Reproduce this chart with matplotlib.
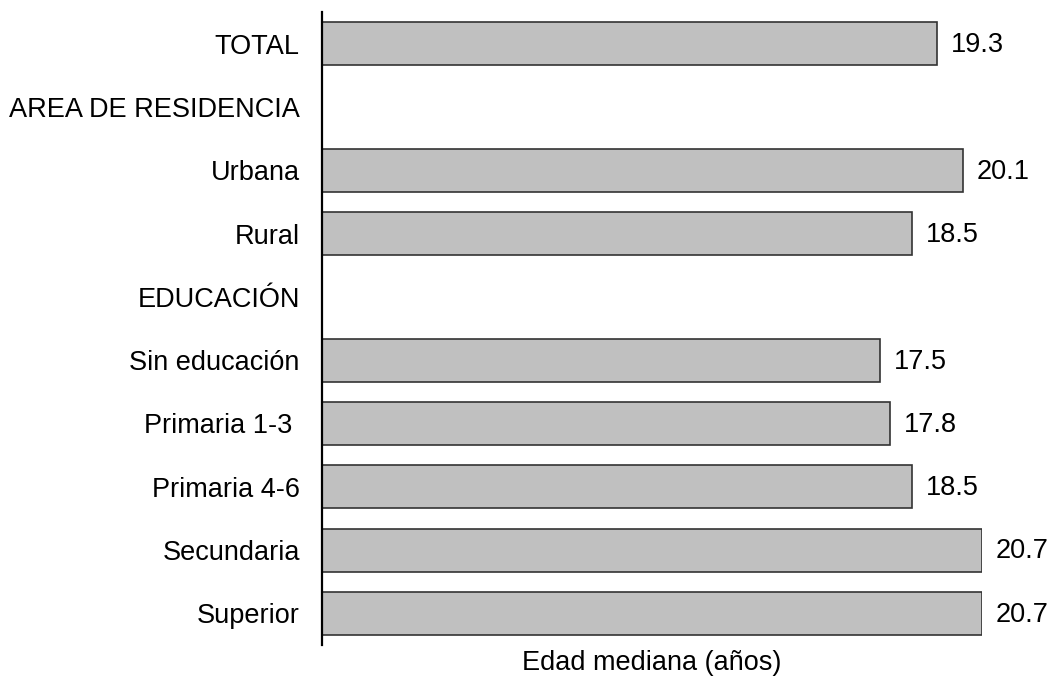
import matplotlib
matplotlib.use("Agg")
from matplotlib import pyplot as plt

# categorías (None = fila de encabezado sin barra)
categorias = [
    "TOTAL",
    "AREA DE RESIDENCIA",
    "Urbana",
    "Rural",
    "EDUCACIÓN",
    "Sin educación",
    "Primaria 1-3 ",
    "Primaria 4-6",
    "Secundaria",
    "Superior",
]
valores = [19.3, None, 20.1, 18.5, None, 17.5, 17.8, 18.5, 20.7, 20.7]

plt.rcParams["font.family"] = ["Liberation Sans", "DejaVu Sans"]
plt.rcParams["font.size"] = 19.5

fig = plt.figure(figsize=(10.52, 6.84), dpi=100)
ax = fig.add_axes([322 / 1052, 1 - 645 / 684, 660 / 1052, 633 / 684])

filas = [i for i, v in enumerate(valores) if v is not None]
vals = [valores[i] for i in filas]
ax.barh(filas, vals, height=0.68, color="#c0c0c0", edgecolor="#333333", linewidth=1.2)

for y, v in zip(filas, vals):
    ax.annotate(f"{v:.1f}", (v, y), xytext=(10, -1), textcoords="offset points",
                ha="left", va="center")

ax.set_yticks(range(len(categorias)))
ax.set_yticklabels(categorias)
ax.tick_params(axis="y", length=0, pad=16)
ax.set_xticks([])
ax.set_xlim(0, 20.7)
ax.set_ylim(len(categorias) - 0.5, -0.5)

for s in ["top", "right", "bottom"]:
    ax.spines[s].set_visible(False)
ax.spines["left"].set_linewidth(1.6)

fig.text(652 / 1052, 1 - 663 / 684, "Edad mediana (años)", ha="center", va="center")

fig.savefig("out.png", dpi=100)
